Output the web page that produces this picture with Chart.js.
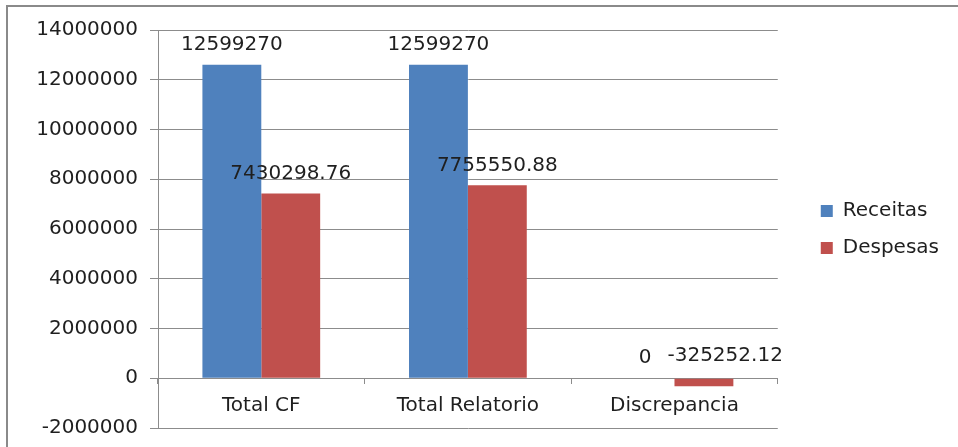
<!DOCTYPE html>
<html>
<head>
<meta charset="utf-8">
<script src="https://cdn.jsdelivr.net/npm/chart.js@4"></script>
<style>
    html, body { margin: 0; padding: 0; background: #fff; overflow: hidden; }
    #wrap { position: relative; width: 958px; height: 447px; overflow: hidden; }
    #frame { position: absolute; left: 6px; top: 5px; width: 980px; height: 480px; border-left: 2px solid #8a8a8a; border-top: 2px solid #8a8a8a; pointer-events: none; }
</style>
</head>
<body>
<div id="wrap">
    <canvas id="chart" width="958" height="452"></canvas>
    <div id="frame"></div>
</div>
<script>
(function () {
    "use strict";

    const categories = ["Total CF", "Total Relatorio", "Discrepancia"];
    const receitas = [12599270, 12599270, 0];
    const despesas = [7430298.76, 7755550.88, -325252.12];
    const seriesNames = ["Receitas", "Despesas"];
    const colors = ["#4f81bd", "#c0504d"];
    const yMin = -2000000, yMax = 14000000, yStep = 2000000;

    const FONT = "'DejaVu Sans', sans-serif";
    const textColor = "#1f1f1f";
    const gridColor = "#8c8c8c";

    // value labels above each bar (above the zero line for negatives)
    const valueLabels = {
        id: "valueLabels",
        afterDatasetsDraw(chart) {
            const { ctx } = chart;
            const zeroY = chart.scales.y.getPixelForValue(0);
            ctx.save();
            ctx.font = "20px " + FONT;
            ctx.fillStyle = textColor;
            ctx.textBaseline = "bottom";
            chart.data.datasets.forEach((ds, i) => {
                chart.getDatasetMeta(i).data.forEach((bar, j) => {
                    const v = ds.data[j];
                    const top = Math.min(bar.y, zeroY);
                    if (v < 0) {
                        ctx.textAlign = "left";
                        ctx.fillText(String(v), bar.x - bar.width / 2 - 7, top - 12);
                    } else {
                        ctx.textAlign = "center";
                        ctx.fillText(String(v), bar.x, top - 10);
                    }
                });
            });
            ctx.restore();
        },
    };

    // push the legend a little away from the plot, as in the original
    const legendShift = {
        id: "legendShift",
        afterLayout(chart) {
            if (!chart.legend) return;
            chart.legend.left += 26;
            chart.legend.right += 26;
            chart.legend.top -= 2;
            chart.legend.bottom -= 2;
        },
    };

    new Chart(document.getElementById("chart"), {
        type: "bar",
        data: {
            labels: categories,
            datasets: [
                { label: seriesNames[0], data: receitas, backgroundColor: colors[0] },
                { label: seriesNames[1], data: despesas, backgroundColor: colors[1] },
            ],
        },
        options: {
            responsive: false,
            animation: false,
            devicePixelRatio: 1,
            layout: { autoPadding: false, padding: { top: 30, left: 0, right: 35, bottom: 19 } },
            datasets: { bar: { categoryPercentage: 0.57, barPercentage: 1.0 } },
            plugins: {
                legend: {
                    position: "right",
                    labels: { font: { family: FONT, size: 20 }, color: textColor, boxWidth: 12, boxHeight: 12, padding: 17 },
                },
                tooltip: { enabled: false },
            },
            scales: {
                x: {
                    position: { y: 0 },
                    grid: { drawOnChartArea: false, drawTicks: true, tickLength: 5, color: gridColor, offset: true },
                    border: { display: true, color: gridColor },
                    ticks: { font: { family: FONT, size: 20 }, color: textColor, padding: 11, maxRotation: 0 },
                },
                y: {
                    min: yMin, max: yMax,
                    afterFit(scale) { scale.width = 158; },
                    grid: { color: gridColor, tickLength: 8 },
                    border: { display: true, color: gridColor },
                    ticks: { stepSize: yStep, font: { family: FONT, size: 20 }, color: textColor, padding: 12, callback: (v) => String(v) },
                },
            },
        },
        plugins: [valueLabels, legendShift],
    });
})();
</script>
</body>
</html>
